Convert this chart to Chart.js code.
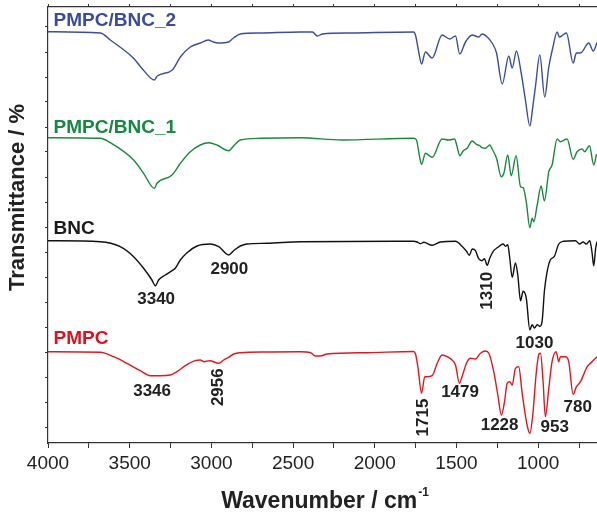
<!DOCTYPE html>
<html><head><meta charset="utf-8">
<script src="https://cdn.jsdelivr.net/npm/chart.js@4.4.1/dist/chart.umd.min.js"></script>
<style>html,body{margin:0;padding:0;background:#fff;}#wrap{width:597px;height:516px;}</style>
</head><body><div id="wrap"><canvas id="c" width="597" height="516"></canvas></div>
<script>
// ---- data (wavenumber in cm-1, transmittance in arbitrary offset units) ----
const bnc2Wn = [4000,3680,3619,3478,3417,3349,3331,3239,3190,3129,3068,3019,2988,2957,2896,2865,2823,2700,2455,2382,2351,2321,2149,1763,1751,1730,1714,1690,1649,1588,1541,1506,1480,1445,1404,1364,1343,1312,1282,1255,1220,1180,1159,1133,1104,1078,1051,1033,1017,990,960,935,911,884,870,827,786,766,741,690,663,639];
const bnc2T  = [411.3,410,403,385,373,363,367,373,386,396,400,403,401,400,401,405,409,410,411,411,407,409,410,411,408,390,379,391,385,408,404,407,389,401,408,406,409,406,400,390,359,387,375,392,370,343,317,336,356,388,346,376,395,411,406,410,380,390,390,400,392,401];

const bnc1Wn = [4000,3680,3619,3476,3415,3349,3333,3241,3190,3129,3068,3017,2966,2894,2864,2823,2700,2455,2200,1763,1745,1726,1714,1690,1649,1588,1547,1512,1496,1480,1459,1435,1404,1378,1358,1343,1323,1296,1282,1255,1226,1210,1186,1165,1135,1108,1092,1073,1051,1037,1027,1006,982,962,935,915,884,864,823,786,762,731,715,686,660,643];
const bnc1T  = [305.3,304.7,300.3,283,269.7,254.7,259.7,268,279.7,291.3,298,300.3,298,292.3,297,303,304.7,305.3,303,304.7,303,286.3,278.7,289.7,285.7,304,303,304,296.3,287.3,292,294.7,302,298.7,297.3,295.3,294.7,298,294,284.7,266.3,269.7,288,267.3,287.3,256.3,255.3,241.3,215.3,224.7,221.3,238,257,242,271.3,278,304,301.3,304,283.7,291.3,294,291.3,297.3,278,288.7];

const bncWn = [4000,3680,3558,3476,3415,3364,3343,3323,3282,3241,3221,3190,3149,3088,3006,2955,2894,2864,2823,2782,2660,2455,1763,1741,1721,1700,1649,1598,1506,1466,1439,1421,1404,1384,1364,1343,1329,1312,1296,1272,1247,1214,1200,1186,1174,1159,1139,1125,1108,1092,1073,1051,1037,1023,1006,990,976,962,945,925,901,874,844,772,746,725,705,684,670,660,648,639];
const bncT  = [202.3,201.3,196.3,186.3,174.7,163,157.3,163,168,172.3,174.7,183,190.3,197,199,196.3,188,192.3,197,199,199.7,201.3,201.7,201,199.3,200.7,197.7,201,201.7,196.7,191.7,187.7,194,192.3,184.3,182.3,184.3,177.7,185,192.3,195.7,199,196.7,198.3,185,165.7,180,168.3,142.3,151.7,145,113.3,118.3,115,118.3,116.7,121.7,151.7,171.7,183.3,186.7,199,201.7,202.3,199,201,199,202.3,190,177.3,195,201.7];

const pmpcWn = [4000,3680,3598,3517,3435,3374,3313,3252,3211,3160,3099,3068,3044,3011,2955,2925,2894,2864,2823,2660,2455,2394,2363,2333,2292,2047,1763,1751,1735,1714,1694,1676,1649,1618,1588,1557,1527,1506,1482,1466,1439,1415,1384,1353,1323,1302,1272,1247,1225,1206,1190,1174,1159,1139,1119,1098,1068,1051,1033,1013,996,986,970,956,935,915,890,874,864,833,813,786,766,741,700,670,639];
const pmpcT  = [91.3,90.7,86.3,79.7,72.3,67.3,67.3,68,71.3,77.3,82.3,83,81.3,82.3,79.7,83,85.7,89,90.3,91,91.3,90.3,87,87,89,90.3,91.5,89.2,74.7,49.7,66.3,66.3,67.3,79.7,88,86.3,83,78,59.7,66.3,79.7,84.7,84,89.7,92,89.7,71.3,48,28,41.3,59.7,61.3,58,74.7,76.3,49.7,18,9.7,28,68,88.7,89.7,61.3,26.3,54.7,81.3,91.3,81.3,86.3,86.3,81.3,48.7,56.3,61.3,76.3,81.3,86.3];

const seriesNames  = ['PMPC/BNC_2','PMPC/BNC_1','BNC','PMPC'];
const xTickValues  = [4000,3750,3500,3250,3000,2750,2500,2250,2000,1750,1500,1250,1000,750];
const xLabelValues = [4000,3500,3000,2500,2000,1500,1000];
const yTickValues  = [16,41,66,91,116,141,166,191,216,241,266,291,316,341,366,391,416];

// peak annotations: text, wavenumber anchor, y anchor, vertical?
const peakLabels = ['3340','2900','3346','2956','1310','1030','1715','1479','1228','953','780'];
const peakLabelWn = [3338,2890,3363,2959,1310,1023,1702,1478,1236,899,758];
const peakLabelY  = [144,173.3,51.7,55.8,152.2,100,25.5,50.5,17.2,15.5,35.5];
const peakLabelRot = [false,false,false,true,true,false,true,false,false,false,false];
const seriesLabelWn = 3966;
const seriesLabelY = [422.7,315.7,214.2,104.7];

// ---- styling ----
const FONT = "'Liberation Sans', Arial, Helvetica, sans-serif";
const colors = ['#3a4da2','#178a3d','#111111','#e8141d'];
const labelColors = ['#3b4c9e','#138a3f','#1a1a1a','#e3101c'];

function pairs(wn, t){ return wn.map((w,i)=>({x:w, y:t[i]})); }
const allWn = [bnc2Wn,bnc1Wn,bncWn,pmpcWn];
const allT  = [bnc2T,bnc1T,bncT,pmpcT];

const datasets = seriesNames.map((name,i)=>({
  label: name,
  data: pairs(allWn[i], allT[i]),
  borderColor: colors[i],
  borderWidth: 1.4,
  pointRadius: 0,
  fill: false,
  cubicInterpolationMode: 'monotone'
}));

const textPlugin = {
  id: 'texts',
  afterDraw(chart){
    const ctx = chart.ctx, xs = chart.scales.x, ys = chart.scales.y, ca = chart.chartArea;
    ctx.save();
    // series labels
    ctx.font = 'bold 19px ' + FONT;
    ctx.textAlign = 'left'; ctx.textBaseline = 'middle';
    seriesNames.forEach((n,i)=>{
      ctx.fillStyle = labelColors[i];
      ctx.fillText(n, xs.getPixelForValue(seriesLabelWn), ys.getPixelForValue(seriesLabelY[i]));
    });
    // peak labels
    ctx.font = 'bold 17px ' + FONT;
    ctx.fillStyle = '#222';
    ctx.textAlign = 'center';
    peakLabels.forEach((t,i)=>{
      const px = xs.getPixelForValue(peakLabelWn[i]), py = ys.getPixelForValue(peakLabelY[i]);
      ctx.save();
      ctx.translate(px, py);
      if (peakLabelRot[i]) ctx.rotate(-Math.PI/2);
      ctx.fillText(t, 0, 0);
      ctx.restore();
    });
    // y title
    ctx.save();
    ctx.font = 'bold 22px ' + FONT;
    ctx.fillStyle = '#222';
    ctx.translate(18, 197.5);
    ctx.rotate(-Math.PI/2);
    ctx.textAlign = 'center'; ctx.textBaseline = 'middle';
    ctx.fillText('Transmittance / %', 0, 0);
    ctx.restore();
    // x title with superscript
    const main = 'Wavenumber / cm', sup = '-1';
    ctx.font = 'bold 23px ' + FONT;
    const w1 = ctx.measureText(main).width;
    ctx.font = 'bold 12px ' + FONT;
    const w2 = ctx.measureText(sup).width;
    const cx = (ca.left + ca.right)/2 + 2;
    const x0 = cx - (w1 + w2)/2;
    const base = 508;
    ctx.textAlign = 'left'; ctx.textBaseline = 'alphabetic';
    ctx.fillStyle = '#222';
    ctx.font = 'bold 23px ' + FONT;
    ctx.fillText(main, x0, base);
    ctx.font = 'bold 12px ' + FONT;
    ctx.fillText(sup, x0 + w1 + 1, base - 12);
    ctx.restore();
  }
};

const setXTicks = s => { s.ticks = xTickValues.map(v=>({value:v})); };

new Chart(document.getElementById('c'), {
  type: 'line',
  data: { datasets },
  options: {
    responsive: false,
    animation: false,
    layout: { padding: 0 },
    plugins: { legend: {display:false}, tooltip: {enabled:false}, title:{display:false} },
    scales: {
      x: {
        type: 'linear', position: 'bottom', reverse: true, min: 640, max: 4000,
        afterBuildTicks: setXTicks,
        afterFit: s => { s.height = 73; },
        ticks: { autoSkip: false, maxRotation: 0, padding: 4, color: '#222',
                 font: { family: FONT, size: 19 },
                 callback: v => xLabelValues.includes(v) ? String(v) : '' },
        grid: { drawOnChartArea: false, drawTicks: true, tickLength: 5, color: '#333', lineWidth: 1 },
        border: { display: true, color: '#333', width: 1.2 }
      },
      x2: {
        type: 'linear', position: 'top', reverse: true, min: 640, max: 4000, display: true,
        afterBuildTicks: setXTicks,
        afterFit: s => { s.height = 7; },
        ticks: { display: false },
        grid: { drawOnChartArea: false, drawTicks: true, tickLength: 3, color: '#333', lineWidth: 1 },
        border: { display: true, color: '#333', width: 1.2 }
      },
      y: {
        type: 'linear', position: 'left', min: 0, max: 436,
        afterBuildTicks: s => { s.ticks = yTickValues.map(v=>({value:v})); },
        afterFit: s => { s.width = 48; },
        ticks: { display: false },
        grid: { drawOnChartArea: false, drawTicks: true, tickLength: 3, color: '#333', lineWidth: 1 },
        border: { display: true, color: '#333', width: 1.2 }
      }
    }
  },
  plugins: [textPlugin]
});
</script>
</body></html>
